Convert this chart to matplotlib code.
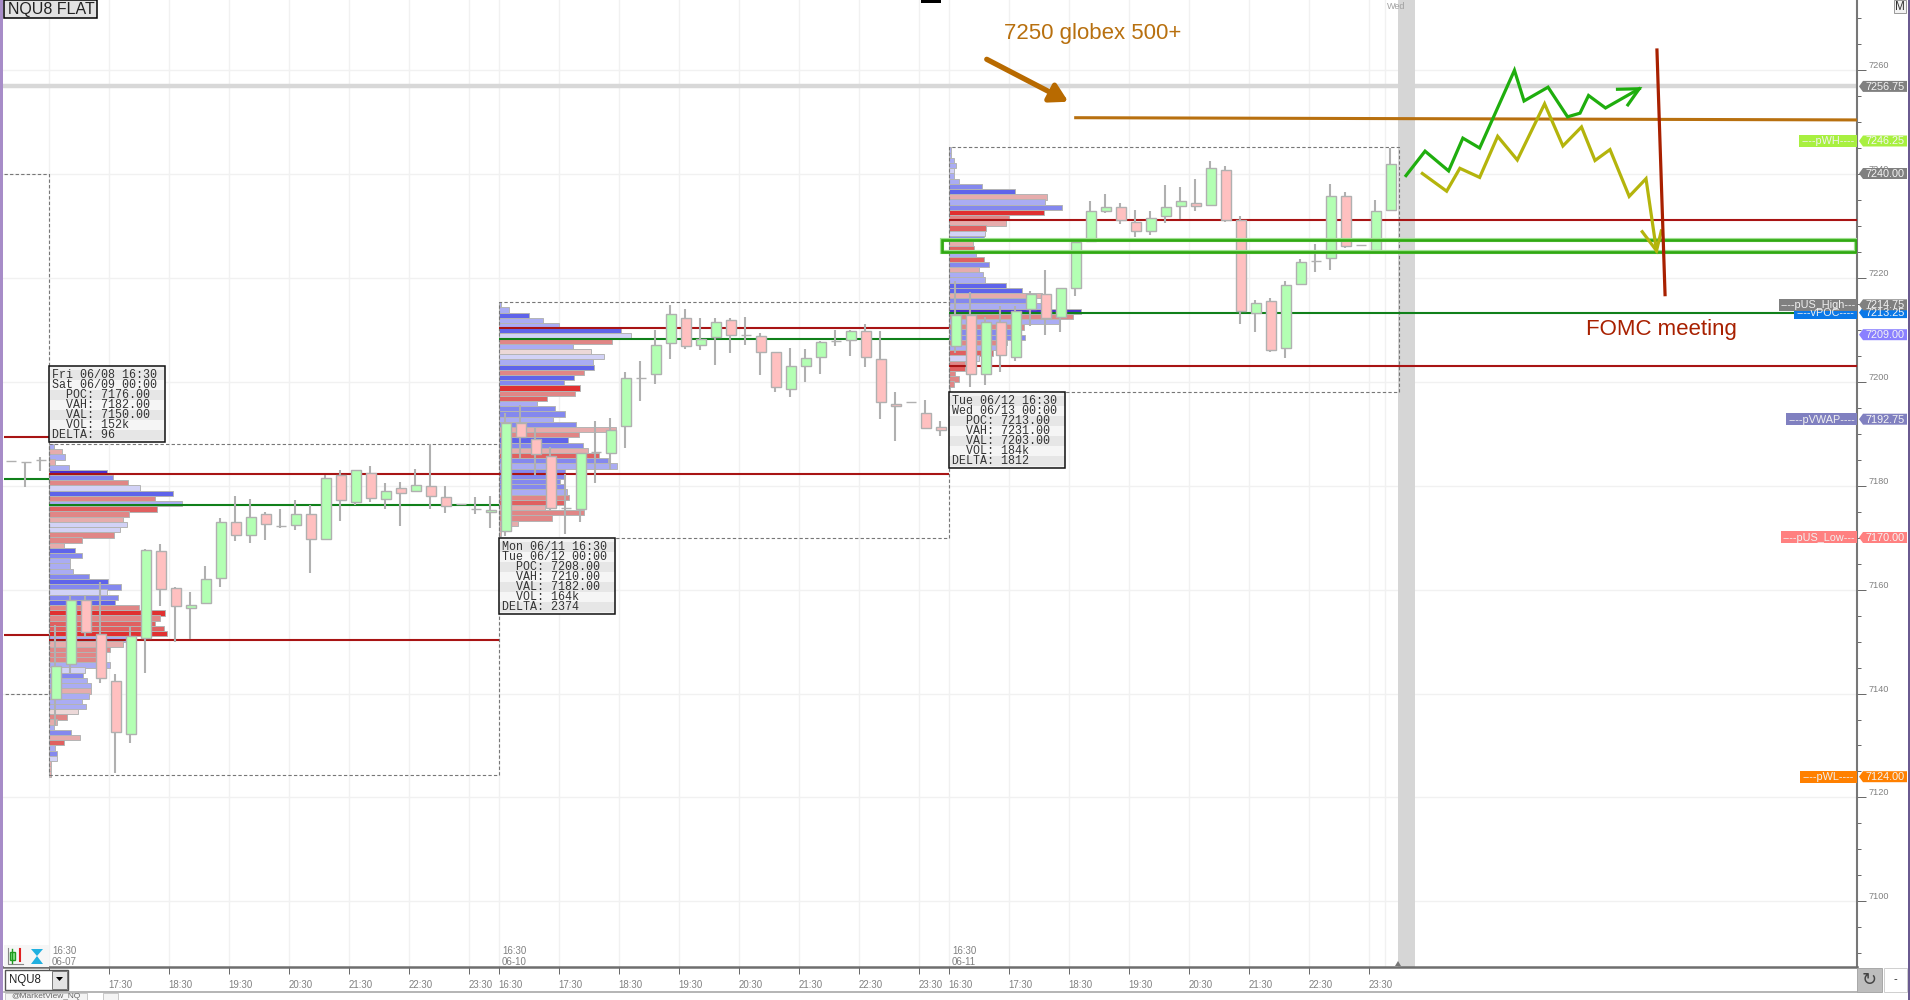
import numpy as np
import matplotlib
matplotlib.use("Agg")
import matplotlib.pyplot as plt
from matplotlib.patches import Rectangle, Polygon
from matplotlib.ticker import MultipleLocator, FixedLocator

plt.rcParams['font.family'] = ['Liberation Sans', 'DejaVu Sans']

# candles before the first full session
open0 = [7184.75, 7184.5, 7185]
high0 = [7184.75, 7184.5, 7185.5]
low0 = [7184.75, 7179.75, 7182.75]
close0 = [7184.75, 7184.5, 7185]

# Fri 06/08 session
open1 = [7139, 7145.75, 7158, 7151.5, 7142.5, 7132.25, 7150.75, 7167.5, 7160.25, 7156.5,
         7157.5, 7162.25, 7173, 7170.5, 7174.5, 7172.25, 7172.5, 7174.5, 7169.75, 7182,
         7176.75, 7182.5, 7177.5, 7179.5, 7179, 7180, 7177.75, 7176.5, 7175.5, 7175]
high1 = [7153.25, 7159, 7159, 7161.5, 7143.75, 7153, 7167.75, 7168.75, 7160.5, 7159.5,
         7164.5, 7173.75, 7178, 7177.5, 7175, 7175.5, 7177.25, 7176.25, 7182, 7183,
         7183, 7183.75, 7180.5, 7180.75, 7183.25, 7188, 7180, 7176.5, 7177.75, 7178]
low1 = [7133.75, 7144, 7151, 7142, 7124.75, 7130.5, 7144, 7156.75, 7150, 7150.5,
        7157.25, 7160.5, 7169.25, 7169, 7169.5, 7171.75, 7171.5, 7163.25, 7169.75, 7173.25,
        7176.25, 7176.75, 7175.5, 7172.25, 7179, 7175.5, 7174.75, 7176.5, 7174.5, 7171.75]
close1 = [7145.25, 7158, 7151.75, 7143, 7132.5, 7151, 7167.5, 7160, 7156.75, 7157,
          7162, 7173, 7170.5, 7174, 7172.5, 7172.25, 7174.5, 7169.75, 7181.5, 7177.25,
          7183, 7177.5, 7179, 7178.5, 7180, 7178, 7176, 7176.5, 7175.5, 7175.25]

# Mon 06/11 session
open2 = [7171.25, 7192, 7189, 7185.75, 7175.75, 7175.5, 7186.5, 7186.25, 7191.5, 7200.75,
         7201.5, 7207.5, 7212.25, 7207, 7208.5, 7211.75, 7209, 7208.75, 7205.75, 7198.5,
         7203, 7204.75, 7207.75, 7208, 7209.75, 7204.25, 7195.75, 7196, 7194, 7191.25]
high2 = [7194, 7195.5, 7191, 7187.5, 7182.25, 7186.25, 7192.5, 7193, 7201.75, 7204,
         7210, 7214.75, 7214, 7212.25, 7212.25, 7212.25, 7212.5, 7209.25, 7205.75, 7206.5,
         7206.25, 7207.75, 7210, 7210, 7211, 7209.75, 7198, 7196, 7196.5, 7192.5]
low2 = [7170.25, 7185.25, 7182, 7175.25, 7170.75, 7173, 7180.5, 7183, 7187.25, 7196.25,
        7199.5, 7204.25, 7206.25, 7206, 7203.25, 7205.5, 7207, 7201.25, 7198, 7197,
        7200, 7201.5, 7206.75, 7205, 7202.75, 7192.75, 7188.5, 7196, 7191, 7189.5]
close2 = [7192, 7189.25, 7186, 7175.75, 7175.75, 7186.25, 7186.5, 7190.75, 7200.75, 7200.75,
          7207, 7213, 7206.75, 7208.25, 7211.5, 7209, 7209, 7205.75, 7199, 7203,
          7204.5, 7207.5, 7207.75, 7209.75, 7204.75, 7196, 7195.25, 7196, 7191, 7190.75]

# Tue 06/12 session
open3 = [7206.75, 7212.75, 7201.5, 7211.5, 7204.75, 7214, 7216.75, 7212.5, 7218, 7227,
         7232.75, 7233.5, 7230.75, 7229, 7231.75, 7233.75, 7234.25, 7234, 7240.75, 7231,
         7213.25, 7215.5, 7206.5, 7218.75, 7223.25, 7223.75, 7235.75, 7226.25, 7225.25, 7233]
high3 = [7219.25, 7217.25, 7212.5, 7214.5, 7214.5, 7217.5, 7221.5, 7218, 7227.25, 7234.75,
         7236, 7234.25, 7233, 7232.75, 7237.75, 7237.5, 7239, 7242.5, 7241.5, 7231.75,
         7215.75, 7216, 7219.25, 7223.5, 7226.5, 7238, 7236.5, 7226.25, 7235, 7245]
low3 = [7205.5, 7199, 7199.25, 7201.75, 7204, 7210.75, 7209, 7209.5, 7216.5, 7227,
        7232.5, 7230.25, 7227.75, 7228.25, 7230.5, 7231.25, 7232.75, 7233.75, 7230.75, 7211,
        7209.5, 7205.75, 7204.5, 7218.75, 7221, 7221.5, 7225.75, 7226.25, 7225.25, 7233]
close3 = [7212.75, 7201.5, 7211.5, 7205, 7213.5, 7216.75, 7212.25, 7218, 7226.75, 7232.75,
          7233.5, 7231, 7229, 7231.5, 7233.5, 7234.75, 7233.75, 7241, 7231, 7213.5,
          7215, 7206, 7218.5, 7223, 7223.25, 7235.75, 7226, 7226.25, 7232.75, 7241.75]

# volume profile rows, top row price then one row per point
prof_top = [7187.5, 7214.75, 7244.5]
vol1 = [16, 40, 48, 20, 60, 175, 192, 237, 273, 372, 320, 400, 326, 240, 222, 234,
        213, 195, 99, 45, 80, 99, 63, 65, 72, 120, 177, 216, 174, 207, 200, 272,
        350, 333, 320, 345, 354, 240, 222, 183, 150, 150, 183, 110, 102, 114, 126, 126,
        120, 100, 111, 87, 54, 24, 16, 66, 93, 45, 18, 24, 24, 6, 6, 6]
delta1 = [2, -2, 2, -2, 2, 5, 3, -3, 1, 4, -3, 2, -4, -3, -2, 1,
          1, -3, -3, -2, 4, 3, 2, 2, 2, 3, 4, 3, 1, 3, 4, -3,
          -5, -3, -4, -4, -5, 2, -2, -3, -3, -3, 2, 1, 3, 2, 2, -2,
          2, 2, 2, -1, -3, -2, 2, 3, -2, -4, 2, 3, 1, -2, -2, -2]
vol2 = [8, 32, 92, 134, 180, 367, 398, 340, 224, 278, 317, 282, 286, 256, 226,
        196, 244, 230, 145, 116, 170, 200, 162, 233, 353, 242, 208, 254, 268, 301,
        328, 356, 200, 200, 185, 195, 205, 210, 200, 140, 257, 160, 58, 6, 6]
delta2 = [2, 2, 4, 2, 2, 4, 1, -3, 2, -1, 1, 2, 4, -3, 4,
          3, -5, -3, -4, 2, 3, 3, 2, 3, -2, -3, 4, 3, -2, -4,
          3, 2, 3, 3, 3, 3, 2, -3, -4, -2, -3, -3, -2, -2, -2]
vol3 = [6, 8, 16, 22, 17, 16, 32, 100, 198, 296, 290, 340, 285, 180, 172, 112,
        108, 106, 74, 76, 82, 105, 121, 90, 104, 108, 172, 220, 280, 238, 290, 396,
        373, 333, 225, 205, 228, 175, 150, 132, 90, 50, 48, 20, 32, 17, 4]
delta3 = [2, 2, 2, 2, 1, 2, 2, 3, 4, -2, 2, 3, -5, -3, -2, -4,
          1, 3, -2, -4, 2, -4, 3, -2, 2, 2, 4, 4, -2, 3, 2, 5,
          -3, 2, -3, 3, 3, -3, 2, -4, 1, -3, -4, -3, -3, -3, -3]

# session levels
poc = [7176.25, 7208.25, 7213.25]
vah = [7182.25, 7210.25, 7231]
val = [7150.25, 7182.25, 7203]
prev_poc, prev_vah, prev_val = 7181.25, 7189.25, 7151.25
box_top = [7188, 7215.25, 7245]
box_bottom = [7124.25, 7170, 7198]
prev_box = [7240, 7140]

info_lines = [
    ["Fri 06/08 16:30", "Sat 06/09 00:00", "  POC: 7176.00", "  VAH: 7182.00",
     "  VAL: 7150.00", "  VOL: 152k", "DELTA: 96"],
    ["Mon 06/11 16:30", "Tue 06/12 00:00", "  POC: 7208.00", "  VAH: 7210.00",
     "  VAL: 7182.00", "  VOL: 164k", "DELTA: 2374"],
    ["Tue 06/12 16:30", "Wed 06/13 00:00", "  POC: 7213.00", "  VAH: 7231.00",
     "  VAL: 7203.00", "  VOL: 184k", "DELTA: 1812"],
]
session_dates = ["06-07", "06-10", "06-11"]
hour_labels = ["16:30", "17:30", "18:30", "19:30", "20:30", "21:30", "22:30", "23:30"]

# price tags on the right
tag_prices = [7256.75, 7246.25, 7240.0, 7213.25, 7214.75, 7209.0, 7192.75, 7170.0, 7124.0]
tag_colors = ['#808080', '#a8f040', '#808080', '#0a78e8', '#808080', '#8a80ff', '#8080c0', '#ff8080', '#ff8000']
tag_names = ['', '----pWH----', '', '----vPOC----', '----pUS_High---', '', '----pVWAP----', '----pUS_Low---', '----pWL----']
tag_name_left = [0, 1798.5, 0, 1794, 1779, 0, 1786, 1781, 1800]

# hand drawn scenario lines (bar slot, price)
green_x = [90.0, 91.27, 92.84, 93.79, 94.91, 97.23, 97.87, 99.47, 100.77, 101.6, 102.17, 103.3, 105.55]
green_y = [7239.6, 7244.3, 7240.5, 7246.8, 7244.9, 7259.85, 7253.95, 7256.6, 7250.9, 7251.6, 7255, 7252.6, 7256.3]
green_barb_x = [104.1, 105.55, 104.79]
green_barb_y = [7256.2, 7256.3, 7253.2]
yellow_x = [91.09, 92.71, 93.59, 94.91, 96.11, 97.42, 99.24, 100.46, 101.7, 102.6, 103.6, 104.88, 106.0, 106.7]
yellow_y = [7240, 7236.6, 7241, 7239.25, 7247.15, 7242.6, 7253.4, 7245.3, 7248.95, 7242.5, 7244.6, 7235.6, 7239, 7225.15]
yellow_barb_x = [105.75, 106.7, 107.02]
yellow_barb_y = [7228.8, 7225.15, 7228.95]
fomc_x = [106.73, 107.27]
fomc_y = [7263.75, 7216.7]
globex_x = [67.98, 120.1]
globex_y = [7250.73, 7250.3]
globex_arrow = [(62.05, 7261.96), (67.49, 7253.8)]
zone_x = [59.07, 120.0]
zone_y = [7225.0, 7227.3]


def px(x):
    # screen x to bar slot
    return (x - 56) / 15.0


def hgt(p):
    # screen pixels to price units
    return p / 5.2


fig = plt.figure(figsize=(19.1, 10), dpi=100)
ax = fig.add_axes([0, 33 / 1000, 1857 / 1910, 967 / 1000])
ax.set_xlim(px(0), px(1857))
ax.set_ylim(7260 - (967 - 69.5) / 5.2, 7260 + 69.5 / 5.2)

for s in ['top', 'left']:
    ax.spines[s].set_visible(False)
ax.spines['right'].set_color('#777777')
ax.spines['right'].set_linewidth(1.5)
ax.spines['bottom'].set_color('#6e6e6e')
ax.spines['bottom'].set_linewidth(1.8)

# ticks and grid, the first 16:30 sits behind the symbol box in the original
session_starts = [-0.5, 29.5, 59.5]
xt, xl = [], []
for st in session_starts:
    for i, lab in enumerate(hour_labels):
        xt.append(st + 4 * i)
        xl.append(lab)
xl[0] = ''
ax.set_xticks(xt)
ax.set_xticklabels(xl, ha='left', fontsize=7, color='#808080')
ax.yaxis.set_major_locator(FixedLocator(np.arange(7100, 7261, 20)))
ax.yaxis.set_minor_locator(MultipleLocator(5))
ax.yaxis.tick_right()
ax.tick_params(axis='x', length=5, width=0.7, color='#666666', pad=4)
ax.tick_params(axis='y', which='major', length=6.5, width=0.7, color='#666666', labelsize=6.6,
               labelcolor='#808080', pad=1.5)
ax.tick_params(axis='y', which='minor', length=3, width=0.7, color='#666666')
for lab in ax.get_yticklabels():
    lab.set_verticalalignment('bottom')
ax.grid(True, color='#f1f1f1', lw=1.0)
ax.set_axisbelow(True)
ax.axvline(px(1385), color='#f1f1f1', lw=1.0, zorder=0.5)

# last price band and the gray stripe
ax.axhline(tag_prices[0], color='#d8d8d8', lw=3.2, zorder=1)
ax.axvspan(px(1398), px(1415), color='#d6d6d6', lw=0, zorder=1)

# volume profiles
level_colors = {5: '#4a30cc', 4: '#5f64ea', 3: '#8488ee', 2: '#aaacf3', 1: '#d2d2f6',
                -1: '#ecd8d8', -2: '#e6acac', -3: '#e08686', -4: '#e06060', -5: '#e03030'}
for st, top, vol, delta in zip(session_starts, prof_top, [vol1, vol2, vol3], [delta1, delta2, delta3]):
    ys = top - np.arange(len(vol))
    ax.barh(ys, np.array(vol) / 45.0, left=st, height=1.0, color=[level_colors[d] for d in delta],
            edgecolor='#b4b4b4', linewidth=0.7, zorder=2)

# session boxes and value area lines
for st, t, b in zip(session_starts, box_top, box_bottom):
    ax.add_patch(Rectangle((st, b), 30, t - b, fill=False, ec='#777777', ls=(0, (3, 2)), lw=0.8, zorder=2.5))
ax.plot([px(4), -0.5, -0.5, px(4)], [prev_box[0], prev_box[0], prev_box[1], prev_box[1]],
        color='#777777', ls=(0, (3, 2)), lw=0.8, zorder=2.5)
line_red = '#a81414'
line_green = '#10801a'
ax.hlines([prev_vah, prev_val], px(4), -0.5, color=line_red, lw=1.5, zorder=3)
ax.hlines(prev_poc, px(4), -0.5, color=line_green, lw=1.5, zorder=3)
ax.hlines(vah[:2] + val[:2], [session_starts[0], session_starts[1]] * 2, [29.5, 59.5] * 2, color=line_red, lw=1.5, zorder=3)
ax.hlines(poc[:2], [session_starts[0], session_starts[1]], [29.5, 59.5], color=line_green, lw=1.5, zorder=3)
ax.hlines([vah[2], val[2]], 59.5, px(1857), color=line_red, lw=1.5, zorder=3)
ax.hlines(poc[2], 59.5, px(1857), color=line_green, lw=1.5, zorder=3)

# candles
opens = np.array(open0 + open1 + open2 + open3)
highs = np.array(high0 + high1 + high2 + high3)
lows = np.array(low0 + low1 + low2 + low3)
closes = np.array(close0 + close1 + close2 + close3)
slots = np.arange(len(opens)) - 3
colors = ['#b3ffb3' if c > o else '#ffc0c0' if c < o else '#b0b0b0' for o, c in zip(opens, closes)]
ax.vlines(slots - 0.05, lows, highs, color='#b0b0b0', lw=1.5, zorder=4)
ax.bar(slots, closes - opens, bottom=opens, width=0.73, color=colors, edgecolor='#b0b0b0',
       linewidth=1.0, zorder=5)

# drawn objects
ax.add_patch(Rectangle((zone_x[0], zone_y[0]), zone_x[1] - zone_x[0], zone_y[1] - zone_y[0], fill=False,
                       ec='#9fe090', lw=3.0, zorder=6))
ax.add_patch(Rectangle((zone_x[0], zone_y[0]), zone_x[1] - zone_x[0], zone_y[1] - zone_y[0], fill=False,
                       ec='#30a812', lw=1.9, zorder=6))
ax.plot(globex_x, globex_y, color='#b8700f', lw=2.2, zorder=7)
ax.plot(green_x, green_y, color='#1fae0e', lw=2.3, zorder=7, solid_joinstyle='miter')
ax.plot(green_barb_x, green_barb_y, color='#1fae0e', lw=2.3, zorder=7, solid_joinstyle='miter')
ax.plot(yellow_x, yellow_y, color='#b4b40c', lw=2.3, zorder=7, solid_joinstyle='miter')
ax.plot(yellow_barb_x, yellow_barb_y, color='#b4b40c', lw=2.3, zorder=7, solid_joinstyle='miter')
ax.plot(fomc_x, fomc_y, color='#a82000', lw=2.3, zorder=7)
ax.annotate('', xy=globex_arrow[1], xytext=globex_arrow[0], zorder=7,
            arrowprops=dict(arrowstyle='-|>,head_length=1.05,head_width=0.6', color='#b86a00', lw=3.8,
                            shrinkA=0, shrinkB=0))

# price tags
h = hgt(5.5)
for p, col, name, left in zip(tag_prices, tag_colors, tag_names, tag_name_left):
    ax.add_patch(Polygon([(px(1859), p), (px(1863), p + h), (px(1907), p + h), (px(1907), p - h), (px(1863), p - h)],
                         closed=True, fc=col, ec='none', clip_on=False, zorder=9))
    ax.text(px(1885), p - hgt(0.5), f"{p:.2f}", color='#f4f4f4', fontsize=7.8, ha='center', va='center',
            clip_on=False, zorder=10)
    if name:
        ax.add_patch(Rectangle((px(left), p - hgt(6)), px(1857) - px(left), hgt(12), fc=col, ec='none', clip_on=False, zorder=8))
        ax.text(px((left + 1857) / 2), p - hgt(0.5), name, color='#f0f0f0', fontsize=7.8, ha='center', va='center',
                clip_on=False, zorder=8.5)

# screen furniture in pixels
ui = fig.add_axes([0, 0, 1, 1])
ui.set_xlim(0, 1910)
ui.set_ylim(1000, 0)
ui.axis('off')
ui.patch.set_alpha(0)

ui.add_patch(Rectangle((0, 0), 3.2, 1000, fc='#a78cc8', ec='none'))
ui.add_patch(Rectangle((1908, 0), 2, 1000, fc='#6a5a90', ec='none'))

# info boxes
for (bx, by), lines in zip([(49, 366), (499, 538), (949, 392)], info_lines):
    ui.add_patch(Rectangle((bx, by), 116, 76, fc='#f2f2f2', ec='none', zorder=3))
    for i, t in enumerate(lines):
        ui.add_patch(Rectangle((bx, by + 3.7 + i * 10), 116, 10, fc='#e6e6e6' if i % 2 == 0 else '#f5f5f5', ec='none', zorder=3))
        ui.text(bx + 3.3, by + 8.7 + i * 10, t, family='Liberation Mono', fontsize=8.35, color='#333333',
                ha='left', va='center', zorder=4)
    ui.add_patch(Rectangle((bx, by), 116, 76, fill=False, ec='#111111', lw=1.1, zorder=5))

# title chip
ui.add_patch(Rectangle((4, 0), 93, 18, fc='#e2e2e2', ec='black', lw=1.1))
ui.text(8, 9.5, "NQU8 FLAT", fontsize=11.5, color='#222222', va='center', ha='left')
ui.add_patch(Rectangle((921, 0), 20, 2.5, fc='black', ec='none'))

ui.text(1004, 33, "7250 globex 500+", fontsize=16, color='#b8700f', va='center', ha='left')
ui.text(1586, 330, "FOMC meeting", fontsize=16, color='#a82000', va='center', ha='left')
ui.text(1387, 6.5, "Wed", fontsize=6.5, color='#a0a0a0', va='center', ha='left')

# session stamps
for sx, d in zip([52, 502, 952], session_dates):
    ui.text(sx, 951, "16:30", fontsize=7, color='#808080', va='center', ha='left')
    ui.text(sx, 962, d, fontsize=7, color='#808080', va='center', ha='left')

# bottom left icons
ui.add_patch(Rectangle((4, 945), 45, 22, fc='#f6f6f6', ec='none'))
ui.plot([7.5, 7.5, 23], [948, 964, 964], color='#888888', lw=0.8)
ui.plot([12, 12], [949, 963], color='#1f9a1f', lw=1)
ui.add_patch(Rectangle((9.5, 952), 5, 8, fc='#90e890', ec='#1f9a1f', lw=1))
ui.plot([20, 20], [949, 961], color='#e02020', lw=1.5)
ui.add_patch(Polygon([(31, 949), (43, 949), (37, 956)], closed=True, fc='#20b0e0', ec='none'))
ui.add_patch(Polygon([(31, 964), (43, 964), (37, 956)], closed=True, fc='#20b0e0', ec='none'))
ui.add_patch(Polygon([(1395, 966), (1401, 966), (1398, 961)], closed=True, fc='#777777', ec='none'))

# bottom bar
ui.plot([4, 1857], [992, 992], color='#a8a8a8', lw=1.2)
ui.add_patch(Rectangle((5, 970), 63, 19.5, fc='white', ec='#555555', lw=1.0))
ui.add_patch(Rectangle((52, 971), 15, 17.5, fc='#e4e4e4', ec='#777777', lw=0.7))
ui.add_patch(Polygon([(56, 977), (63, 977), (59.5, 981)], closed=True, fc='black', ec='none'))
ui.text(9, 979.5, "NQU8", fontsize=8.3, color='#222222', va='center', ha='left')
ui.add_patch(Rectangle((5, 993), 82, 7, fc='#f4f4f4', ec='#c0c0c0', lw=0.6))
ui.text(11, 996.5, "@MarketView_NQ", fontsize=6, color='#666666', va='center', ha='left')
ui.add_patch(Rectangle((103, 993), 15, 7, fc='#f4f4f4', ec='#c0c0c0', lw=0.6))
ui.add_patch(Rectangle((1857, 968), 25, 24, fc='#bdbdbd', ec='#a0a0a0', lw=0.6))
ui.text(1869.5, 980, "\u21bb", fontsize=13, color='#444444', va='center', ha='center', family='DejaVu Sans')
ui.add_patch(Rectangle((1884, 968), 23, 24, fc='white', ec='#c8c8c8', lw=0.6))
ui.text(1895.5, 979, "-", fontsize=8, color='#222222', va='center', ha='center')
ui.add_patch(Rectangle((1894, 0), 12, 13, fc='#f2f2f2', ec='#999999', lw=0.7))
ui.text(1900, 6.5, "M", fontsize=8.5, color='#333333', va='center', ha='center')

fig.savefig('out.png', dpi=100)
